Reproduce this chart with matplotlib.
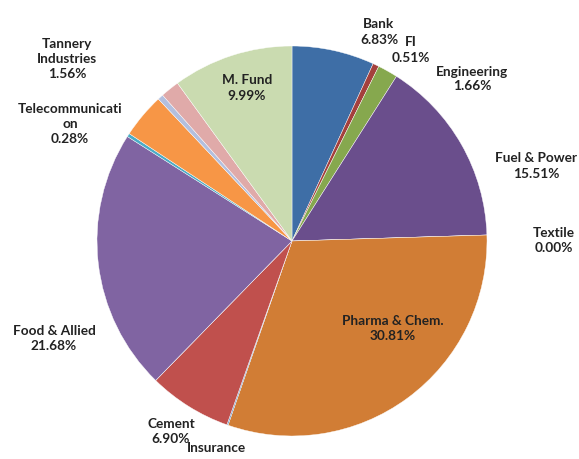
import matplotlib.pyplot as plt

# sector data (clockwise from 12 o'clock)
sectors = ['Bank', 'FI', 'Engineering', 'Fuel & Power', 'Textile',
           'Pharma & Chem.', 'Insurance', 'Cement', 'Ceramics',
           'Food & Allied', 'Telecommunication', 'Services', 'Miscellaneous',
           'Tannery Industries', 'M. Fund']
shares = [6.83, 0.51, 1.66, 15.51, 0.00,
          30.81, 0.10, 6.90, 0.00,
          21.68, 0.28, 3.70, 0.47,
          1.56, 9.99]
colors = ['#3e6ea6', '#a4403d', '#86a84e', '#6a4e8c', '#3c9ab2',
          '#d17d35', '#4f81bd', '#c0504d', '#9bbb59',
          '#8064a2', '#4bacc6', '#f79646', '#b3bfde',
          '#e0aaa9', '#cadbb0']

# label text as shown on the chart
label_text = {
    'Bank': 'Bank',
    'FI': 'FI',
    'Engineering': 'Engineering',
    'Fuel & Power': 'Fuel & Power',
    'Textile': 'Textile',
    'Pharma & Chem.': 'Pharma & Chem.',
    'Insurance': 'Insurance',
    'Cement': 'Cement',
    'Food & Allied': 'Food & Allied',
    'Telecommunication': 'Telecommunicati\non',
    'Tannery Industries': 'Tannery\nIndustries',
    'M. Fund': 'M. Fund',
}
# only the name of Insurance is visible (its value falls below the edge)
name_only = ['Insurance']

# label centres in pixels (x from left, y from top)
label_pos = {
    'Bank': (379, 32),
    'FI': (411, 50),
    'Engineering': (472, 79),
    'Fuel & Power': (536, 166),
    'Textile': (554, 241),
    'Pharma & Chem.': (393, 329),
    'Insurance': (216, 448),
    'Cement': (171, 432),
    'Food & Allied': (54, 339),
    'Telecommunication': (70, 124),
    'Tannery Industries': (67, 59),
    'M. Fund': (247, 88),
}

W, H = 579, 460
fig = plt.figure(figsize=(W / 100, H / 100), dpi=100)
fig.patch.set_facecolor('white')

cx, cy, r = 292, 242, 195
ax = fig.add_axes([(cx - r) / W, (H - cy - r) / H, 2 * r / W, 2 * r / H])
ax.pie(shares, colors=colors, startangle=90, counterclock=False,
       radius=1, wedgeprops=dict(edgecolor='white', linewidth=0.3))
ax.set_xlim(-1, 1)
ax.set_ylim(-1, 1)
ax.set_aspect('auto')
ax.axis('off')

for name, val in zip(sectors, shares):
    if name not in label_text:
        continue
    x, y = label_pos[name]
    txt = label_text[name]
    if name not in name_only:
        txt = f"{txt}\n{val:.2f}%"
    fig.text(x / W, 1 - y / H, txt,
             ha='center', va='center', fontsize=9.8, fontweight='bold',
             family='Lato', color='#222222', linespacing=1.3)

fig.savefig('out.png', dpi=100)
